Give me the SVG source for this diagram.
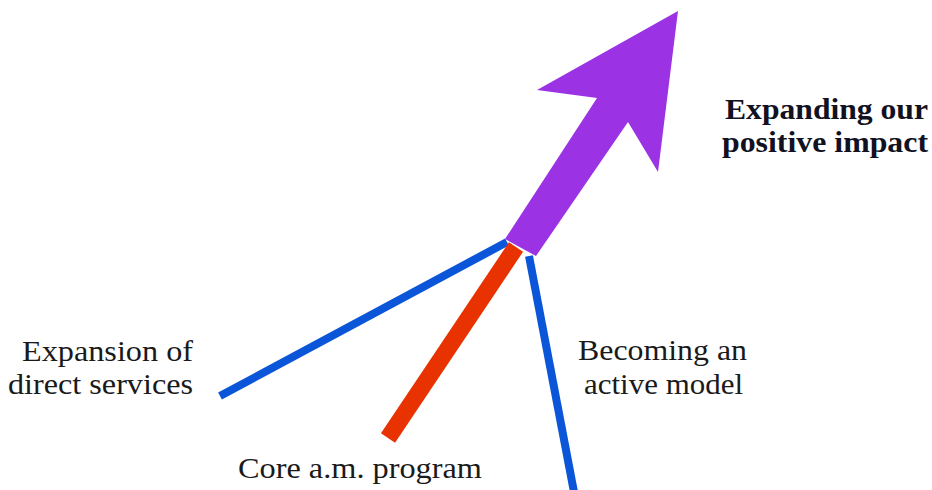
<svg xmlns="http://www.w3.org/2000/svg" width="932" height="490" viewBox="0 0 932 490">
  <style>
    .lbl { font-family: "Liberation Serif", "Times New Roman", serif; font-size: 30px; fill: #1a1a1a; }
    .bold { font-weight: bold; font-size: 29px; fill: #111122; }
    .blue { stroke: #0b56d8; stroke-width: 8; fill: none; }
    .red { stroke: #e83300; stroke-width: 17; fill: none; }
    .purple { fill: #9b33e4; }
  </style>
  <rect width="932" height="490" fill="#ffffff"/>

  <!-- branches converging on the arrow base -->
  <g id="connectors">
    <line class="blue" x1="220" y1="396" x2="507" y2="242"/>
    <line class="blue" x1="529" y1="256" x2="574" y2="492"/>
    <line class="red" x1="516" y1="247" x2="388" y2="438"/>
  </g>

  <!-- main arrow -->
  <g id="impact-arrow">
    <polygon class="purple" points="678,11 658,172 628,122 536,256 505,239 597,98 537,90"/>
  </g>

  <g id="impact-label">
    <text class="lbl bold" x="725" y="119" textLength="203" lengthAdjust="spacingAndGlyphs">Expanding our</text>
    <text class="lbl bold" x="722" y="152" textLength="206" lengthAdjust="spacingAndGlyphs">positive impact</text>
  </g>

  <g id="direct-services">
    <text class="lbl" x="22" y="361" textLength="171" lengthAdjust="spacingAndGlyphs">Expansion of</text>
    <text class="lbl" x="8" y="394" textLength="185" lengthAdjust="spacingAndGlyphs">direct services</text>
  </g>

  <g id="active-model">
    <text class="lbl" x="578" y="360" textLength="169" lengthAdjust="spacingAndGlyphs">Becoming an</text>
    <text class="lbl" x="584" y="394" textLength="159" lengthAdjust="spacingAndGlyphs">active model</text>
  </g>

  <g id="core-program">
    <text class="lbl" x="238" y="478" textLength="244" lengthAdjust="spacingAndGlyphs">Core a.m. program</text>
  </g>
</svg>
